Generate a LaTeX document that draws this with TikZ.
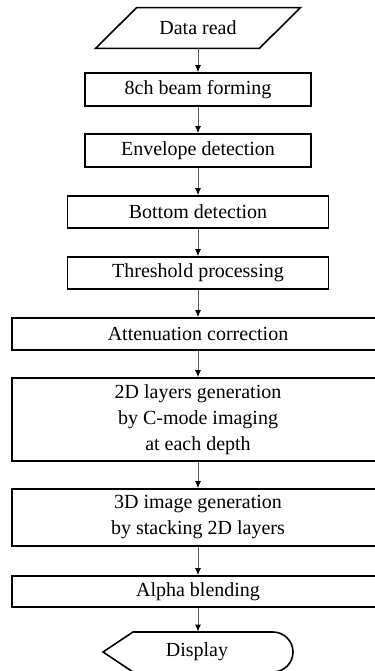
\documentclass[tikz,border=0pt]{standalone}
\usepackage{fontspec}
\setmainfont{Liberation Serif}
\usetikzlibrary{arrows.meta}

\tikzset{
  stepbox/.style={draw, line width=0.8pt, inner sep=0pt, align=center},
  flow/.style={draw=black!65, line width=0.5pt, -{Latex[length=3.5pt,width=3pt,black]}}
}

\begin{document}
\begin{tikzpicture}[x=0.5pt,y=-0.5pt,font=\fontsize{10}{13}\selectfont]
  \clip (0,0) rectangle (375,671);
  % input
  \node (read) [minimum width=81.5pt, minimum height=20pt, inner sep=0pt] at (198,28) {Data read};
  \draw [line width=0.8pt] ([xshift=-10.25pt]read.south west) -- ([xshift=10.25pt]read.north west)
     -- ([xshift=10.25pt]read.north east) -- ([xshift=-10.25pt]read.south east) -- cycle;
  % processing steps
  \node (beam) [stepbox, minimum width=113pt, minimum height=16.5pt] at (198,89.5) {8ch beam forming};
  \node (env) [stepbox, minimum width=113pt, minimum height=16.5pt] at (198,150.5) {Envelope detection};
  \node (bot) [stepbox, minimum width=130.5pt, minimum height=16pt] at (198,212) {Bottom detection};
  \node (thr) [stepbox, minimum width=130.5pt, minimum height=16pt] at (198,273) {Threshold processing};
  \node (att) [stepbox, minimum width=186pt, minimum height=16pt] at (198,334) {Attenuation correction};
  \node (lay) [stepbox, minimum width=186pt, minimum height=41.5pt] at (198,419.5) {2D layers generation\\by C-mode imaging\\at each depth};
  \node (stk) [stepbox, minimum width=186pt, minimum height=28.5pt] at (198,517.5) {3D image generation\\by stacking 2D layers};
  \node (alp) [stepbox, minimum width=186pt, minimum height=15.5pt] at (198,591.5) {Alpha blending};
  % output
  \node (disp) [minimum width=70pt, minimum height=20pt, inner sep=0pt] at (197,652) {Display};
  \draw [line width=0.8pt] (103,652) -- (133,632) -- (273,632) arc (90:-90:10pt) -- (133,672) -- cycle;
  % arrows
  \foreach \a/\b in {read/beam,beam/env,env/bot,bot/thr,thr/att,att/lay,lay/stk,stk/alp}
    \draw [flow] (\a.south) -- (\b.north);
  \draw [flow] (alp.south) -- (alp.south |- disp.north);
\end{tikzpicture}
\end{document}
